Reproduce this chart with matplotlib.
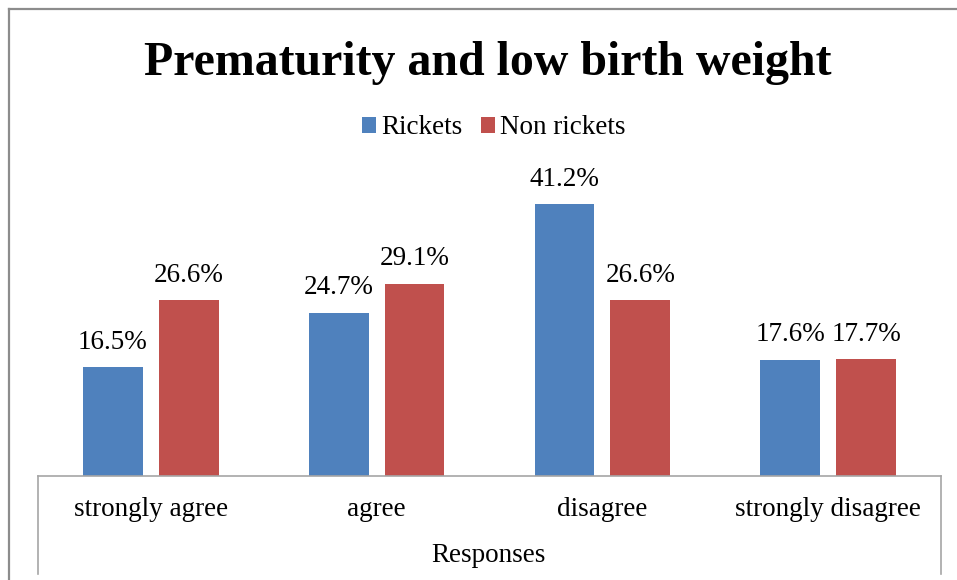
#!/usr/bin/env python3
"""Grouped bar chart: prematurity and low birth weight responses."""
import matplotlib

matplotlib.use("Agg")
import matplotlib.pyplot as plt
from matplotlib.lines import Line2D
import numpy as np

CATEGORIES = ["strongly agree", "agree", "disagree", "strongly disagree"]
RICKETS = [16.5, 24.7, 41.2, 17.6]
NON_RICKETS = [26.6, 29.1, 26.6, 17.7]
SERIES = ["Rickets", "Non rickets"]

BLUE = "#4F81BD"
RED = "#C0504D"
BORDER = "#8C8C8C"
BOX = "#A6A6A6"
FS = 19.5

W, H = 957, 580
plt.rcParams["font.family"] = ["Liberation Serif", "DejaVu Serif"]


def fx(px):
    return px / W


def fy(py):
    return 1 - py / H


def main() -> None:
    fig = plt.figure(figsize=(W / 100, H / 100), dpi=100)
    left, right, bottom, top = 38, 941, 476, 146
    ax = fig.add_axes([fx(left), fy(bottom), fx(right - left), fy(top) - fy(bottom)])

    x = np.arange(len(CATEGORIES))
    width = 0.265
    off = 0.168
    b1 = ax.bar(x - off, RICKETS, width, color=BLUE, label=SERIES[0])
    b2 = ax.bar(x + off, NON_RICKETS, width, color=RED, label=SERIES[1])
    for bars, vals in [(b1, RICKETS), (b2, NON_RICKETS)]:
        for bar, v in zip(bars, vals):
            ax.annotate(
                f"{v:.1f}%",
                (bar.get_x() + bar.get_width() / 2, v),
                xytext=(0, 9),
                textcoords="offset points",
                ha="center",
                va="bottom",
                fontsize=FS,
            )

    ax.set_xlim(-0.5, len(CATEGORIES) - 0.5)
    ax.set_ylim(0, (bottom - top) / 6.6)
    ax.set_yticks([])
    ax.set_xticks(x, CATEGORIES, fontsize=FS)
    ax.tick_params(axis="x", length=0, pad=15)
    for side in ["left", "right", "top", "bottom"]:
        ax.spines[side].set_visible(False)

    # box under the bars holding category labels
    for xs, ys in [
        ([left, right], [bottom, bottom]),
        ([left, left], [bottom, 574]),
        ([right, right], [bottom, 574]),
    ]:
        fig.add_artist(Line2D([fx(v) for v in xs], [fy(v) for v in ys], color=BOX, lw=1.2))

    # outer chart border
    fig.add_artist(Line2D([fx(9), fx(9)], [fy(9), 0], color=BORDER, lw=1.6))
    fig.add_artist(Line2D([fx(9), 1], [fy(9), fy(9)], color=BORDER, lw=1.6))

    fig.text(fx(488), fy(63), "Prematurity and low birth weight", ha="center", va="center",
             fontsize=34.5, fontweight="bold")
    fig.text(fx(488), fy(556), "Responses", ha="center", va="center", fontsize=FS)

    fig.legend(
        handles=[b1, b2],
        labels=SERIES,
        loc="center",
        bbox_to_anchor=(fx(494), fy(128)),
        ncol=2,
        frameon=False,
        fontsize=FS,
        handlelength=0.5,
        handleheight=0.5,
        handletextpad=0.2,
        columnspacing=0.7,
    )

    fig.savefig("out.png", dpi=100)
    plt.close(fig)


if __name__ == "__main__":
    main()
